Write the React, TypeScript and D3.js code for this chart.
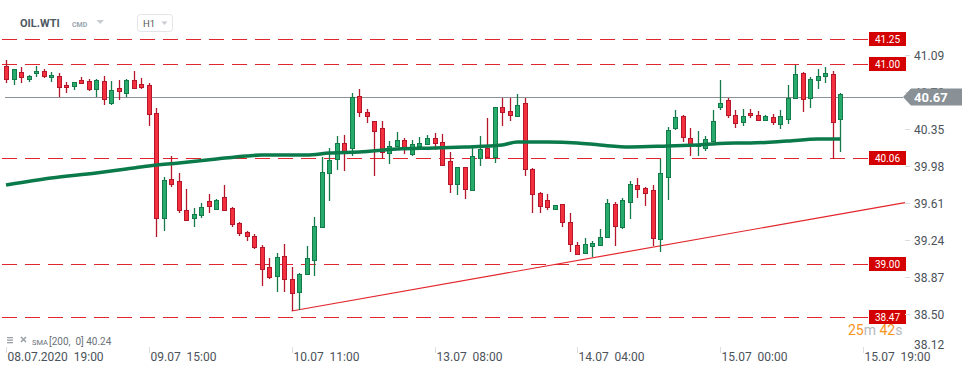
import React, { useEffect, useRef } from 'react';
import * as d3 from 'd3';

// hourly OHLC, OIL.WTI
const opens = [
  40.98, 40.85, 40.92, 40.85, 40.91, 40.93, 40.87, 40.88, 40.79, 40.78,
  40.84, 40.83, 40.75, 40.83, 40.61, 40.76, 40.71, 40.84, 40.80, 40.79,
  40.51, 39.46, 39.85, 39.83, 39.54, 39.46, 39.49, 39.63, 39.55, 39.67,
  39.56, 39.41, 39.32, 39.28, 39.17, 38.97, 38.88, 39.08, 38.85, 38.72,
  38.90, 39.04, 39.37, 39.91, 40.05, 40.21, 40.16, 40.68, 40.52, 40.43,
  40.36, 40.11, 40.18, 40.24, 40.10, 40.18, 40.20, 40.26, 40.22, 40.03,
  39.80, 39.97, 39.74, 40.06, 40.16, 40.07, 40.57, 40.53, 40.48, 40.61,
  39.95, 39.71, 39.64, 39.55, 39.60, 39.42, 39.19, 39.11, 39.18, 39.19,
  39.27, 39.60, 39.37, 39.62, 39.79, 39.76, 39.74, 39.25, 39.87, 40.36,
  40.48, 40.26, 40.18, 40.16, 40.23, 40.57, 40.64, 40.49, 40.42, 40.51,
  40.49, 40.44, 40.47, 40.40, 40.45, 40.66, 40.91, 40.66, 40.84, 40.88,
  40.90, 40.45,
];
const highs = [
  41.04, 40.95, 40.97, 40.89, 40.98, 40.95, 40.92, 40.91, 40.82, 40.82,
  40.87, 40.85, 40.85, 40.88, 40.83, 40.84, 40.85, 40.93, 40.86, 40.81,
  40.56, 39.87, 40.08, 39.91, 39.75, 39.56, 39.61, 39.70, 39.65, 39.79,
  39.57, 39.42, 39.33, 39.30, 39.19, 39.06, 39.11, 39.20, 38.97, 38.91,
  39.18, 39.47, 40.07, 40.16, 40.28, 40.29, 40.71, 40.75, 40.55, 40.43,
  40.43, 40.23, 40.32, 40.26, 40.24, 40.27, 40.29, 40.31, 40.30, 40.12,
  39.97, 39.97, 40.16, 40.28, 40.46, 40.57, 40.66, 40.66, 40.70, 40.66,
  39.96, 39.72, 39.70, 39.59, 39.60, 39.51, 39.22, 39.26, 39.23, 39.35,
  39.65, 39.62, 39.66, 39.83, 39.86, 39.77, 39.79, 40.05, 40.37, 40.54,
  40.49, 40.36, 40.33, 40.28, 40.54, 40.84, 40.66, 40.54, 40.55, 40.55,
  40.53, 40.49, 40.50, 40.54, 40.79, 40.99, 40.92, 40.87, 40.95, 40.97,
  40.93, 40.71,
];
const lows = [
  40.81, 40.79, 40.81, 40.82, 40.87, 40.86, 40.82, 40.67, 40.71, 40.74,
  40.80, 40.73, 40.67, 40.59, 40.59, 40.64, 40.67, 40.76, 40.75, 40.38,
  39.27, 39.33, 39.77, 39.51, 39.43, 39.37, 39.46, 39.51, 39.54, 39.53,
  39.37, 39.28, 39.23, 39.15, 38.78, 38.85, 38.72, 38.72, 38.53, 38.54,
  38.89, 38.88, 39.36, 39.63, 39.94, 39.93, 40.08, 40.47, 40.41, 39.88,
  40.06, 40.00, 40.18, 40.10, 40.08, 40.16, 40.19, 40.14, 39.99, 39.71,
  39.69, 39.65, 39.74, 39.98, 40.07, 40.01, 40.38, 40.43, 40.48, 39.88,
  39.51, 39.51, 39.54, 39.55, 39.37, 39.12, 39.09, 39.11, 39.07, 39.19,
  39.26, 39.18, 39.35, 39.45, 39.66, 39.58, 39.18, 39.12, 39.64, 40.34,
  40.22, 40.08, 40.08, 40.13, 40.22, 40.54, 40.46, 40.36, 40.38, 40.46,
  40.44, 40.43, 40.39, 40.35, 40.40, 40.66, 40.52, 40.56, 40.75, 40.81,
  40.05, 40.12,
];
const closes = [
  40.85, 40.95, 40.87, 40.88, 40.93, 40.88, 40.89, 40.77, 40.77, 40.82,
  40.81, 40.75, 40.84, 40.65, 40.74, 40.73, 40.84, 40.76, 40.77, 40.50,
  39.46, 39.84, 39.80, 39.54, 39.44, 39.50, 39.57, 39.58, 39.64, 39.54,
  39.40, 39.31, 39.28, 39.17, 38.95, 38.87, 39.07, 38.85, 38.71, 38.90,
  39.06, 39.38, 39.92, 40.04, 40.21, 40.12, 40.67, 40.52, 40.48, 40.33,
  40.12, 40.18, 40.24, 40.15, 40.20, 40.21, 40.26, 40.21, 39.99, 39.80,
  39.97, 39.75, 40.08, 40.15, 40.07, 40.57, 40.52, 40.49, 40.59, 39.95,
  39.70, 39.58, 39.57, 39.59, 39.42, 39.20, 39.10, 39.20, 39.21, 39.27,
  39.61, 39.38, 39.64, 39.80, 39.75, 39.71, 39.26, 39.91, 40.34, 40.47,
  40.27, 40.19, 40.20, 40.25, 40.43, 40.61, 40.49, 40.41, 40.48, 40.49,
  40.44, 40.48, 40.42, 40.48, 40.66, 40.90, 40.65, 40.85, 40.88, 40.91,
  40.42, 40.70,
];

// SMA(200) read at some candles
const smaIdx = [0, 6, 12, 16, 19, 23, 28, 32, 34, 40, 43, 47, 52, 57, 61, 66, 68, 72, 76, 79, 83, 88, 92, 97, 99, 104, 108, 111];
const smaVal = [39.79, 39.86, 39.91, 39.95, 39.98, 40.01, 40.05, 40.08, 40.09, 40.09, 40.11, 40.12, 40.15, 40.16, 40.17, 40.19, 40.22, 40.22, 40.21, 40.19, 40.17, 40.18, 40.19, 40.21, 40.21, 40.23, 40.25, 40.25];

const levels = [41.25, 41.0, 40.06, 39.0, 38.47];
const lastPrice = 40.67;
const trendIdx = [38, 111];
const trendVal = [38.53, 39.5];

const yTicks = [41.09, 40.72, 40.35, 39.98, 39.61, 39.24, 38.87, 38.5, 38.12];
const xTickIdx = [0, 19, 38, 57, 76, 95, 114];
const xTickLabels = ['08.07.2020  19:00', '09.07  15:00', '10.07  11:00', '13.07  08:00', '14.07  04:00', '15.07  00:00', '15.07  19:00'];

const width = 974;
const height = 375;
const font = 'Roboto, "Noto Sans", sans-serif';

export default function App() {
  const svgRef = useRef<SVGSVGElement>(null);

  useEffect(() => {
    if (!svgRef.current) return;
    const svg = d3.select(svgRef.current);
    svg.selectAll('*').remove();

    const xScale = d3.scaleLinear().domain([0, 114]).range([6, 863]);
    const yScale = d3.scaleLinear().domain([38.12, 41.25]).range([352, 39]);
    const px = (v: number) => Math.round(v) + 0.5;

    svg.append('rect').attr('width', width).attr('height', height).attr('fill', '#fff');

    // header
    svg.append('text').attr('x', 20).attr('y', 27).attr('font-family', font)
      .attr('font-size', 11).attr('font-weight', 700).attr('fill', '#4d5862').text('OIL.WTI');
    svg.append('text').attr('x', 72).attr('y', 26.5).attr('font-family', font)
      .attr('font-size', 7).attr('font-weight', 700).attr('fill', '#9aa5ae').text('CMD');
    svg.append('path').attr('d', 'M96.5,20 L104,20 L100.25,24 Z').attr('fill', '#c8ccd0');
    svg.append('rect').attr('x', 137.5).attr('y', 14.5).attr('width', 35).attr('height', 17)
      .attr('rx', 3).attr('fill', '#fff').attr('stroke', '#e3e5e8');
    svg.append('text').attr('x', 143).attr('y', 27).attr('font-family', font)
      .attr('font-size', 9.5).attr('fill', '#555').text('H1');
    svg.append('path').attr('d', 'M161.5,21.5 L167.5,21.5 L164.5,25 Z').attr('fill', '#c8ccd0');

    // level lines
    levels.forEach(l => {
      const y = px(yScale(l));
      svg.append('line').attr('x1', 2).attr('x2', 869).attr('y1', y).attr('y2', y)
        .attr('stroke', '#e0262f').attr('stroke-width', 1.2).attr('stroke-dasharray', '15,8');
    });

    // trend line
    const slope = (trendVal[1] - trendVal[0]) / (trendIdx[1] - trendIdx[0]);
    const endIdx = xScale.invert(905);
    svg.append('line')
      .attr('x1', xScale(trendIdx[0])).attr('y1', yScale(trendVal[0]))
      .attr('x2', xScale(endIdx)).attr('y2', yScale(trendVal[0] + slope * (endIdx - trendIdx[0])))
      .attr('stroke', '#e2262c').attr('stroke-width', 1.2);

    // last price line
    const yLast = px(yScale(lastPrice));
    svg.append('line').attr('x1', 5).attr('x2', 903).attr('y1', yLast).attr('y2', yLast)
      .attr('stroke', '#8c9196').attr('stroke-width', 1);

    // candles
    const candles = svg.append('g');
    opens.forEach((o, i) => {
      const c = closes[i];
      const up = c >= o;
      const cx = px(xScale(i));
      const stroke = up ? '#157a4a' : '#b5172a';
      const fill = up ? '#27ab6c' : '#f4303f';
      candles.append('line').attr('x1', cx).attr('x2', cx)
        .attr('y1', yScale(highs[i])).attr('y2', yScale(lows[i]))
        .attr('stroke', stroke).attr('stroke-width', 1.3);
      const top = Math.round(yScale(Math.max(o, c))) + 0.5;
      const bot = Math.max(top + 1, Math.round(yScale(Math.min(o, c))) + 0.5);
      candles.append('rect').attr('x', cx - 2).attr('width', 4)
        .attr('y', top).attr('height', bot - top)
        .attr('fill', fill).attr('stroke', stroke).attr('stroke-width', 1);
    });

    // SMA
    const smaLine = d3.line<number>()
      .x(d => xScale(d))
      .y((d, i) => yScale(smaVal[i]))
      .curve(d3.curveMonotoneX);
    svg.append('path').datum(smaIdx).attr('fill', 'none')
      .attr('stroke', '#0b7a4b').attr('stroke-width', 3.5).attr('d', smaLine);

    // level labels
    levels.forEach(l => {
      const y = yScale(l);
      svg.append('rect').attr('x', 869).attr('y', Math.round(y) - 7).attr('width', 37).attr('height', 14)
        .attr('fill', '#d40000');
      svg.append('text').attr('x', 887.5).attr('y', Math.round(y) + 3.5).attr('text-anchor', 'middle')
        .attr('font-family', font).attr('font-size', 10).attr('fill', '#fff').text(l.toFixed(2));
    });

    // right axis
    yTicks.forEach(t => {
      const y = Math.min(yScale(t), 344);
      if (yScale(t) < 344) {
        svg.append('line').attr('x1', 905).attr('x2', 910).attr('y1', px(y)).attr('y2', px(y))
          .attr('stroke', '#ddd');
      }
      svg.append('text').attr('x', 914).attr('y', y + 4.5).attr('font-family', font)
        .attr('font-size', 12).attr('fill', '#4b5259').text(t.toFixed(2));
    });

    // last price tag
    const yl = yScale(lastPrice);
    svg.append('path')
      .attr('d', `M903,${yl} L911,${yl - 8.5} L962,${yl - 8.5} L962,${yl + 8.5} L911,${yl + 8.5} Z`)
      .attr('fill', '#899196');
    svg.append('text').attr('x', 914).attr('y', yl + 5).attr('font-family', font)
      .attr('font-size', 13).attr('font-weight', 700).attr('fill', '#fff').text(lastPrice.toFixed(2));

    // bottom axis
    xTickIdx.forEach((t, i) => {
      const x = px(xScale(t));
      svg.append('line').attr('x1', x).attr('x2', x).attr('y1', 347).attr('y2', 353).attr('stroke', '#ddd');
      svg.append('text').attr('x', x + 1).attr('y', 361).attr('font-family', font)
        .attr('font-size', 12).attr('fill', '#4b5259').style('white-space', 'pre').text(xTickLabels[i]);
    });

    // SMA legend
    const lg = svg.append('g');
    lg.append('rect').attr('x', 7).attr('y', 337).attr('width', 6).attr('height', 1.3).attr('fill', '#9aa0a6');
    lg.append('rect').attr('x', 7).attr('y', 339.5).attr('width', 6).attr('height', 1.3).attr('fill', '#9aa0a6');
    lg.append('rect').attr('x', 7).attr('y', 342).attr('width', 6).attr('height', 1.3).attr('fill', '#9aa0a6');
    lg.append('path').attr('d', 'M21,337 L26,342 M26,337 L21,342').attr('stroke', '#9aa0a6').attr('stroke-width', 1.6);
    lg.append('text').attr('x', 32).attr('y', 345).attr('font-family', font).attr('font-size', 7.5)
      .attr('fill', '#6b7278').text('SMA');
    lg.append('text').attr('x', 49).attr('y', 345).attr('font-family', font).attr('font-size', 10)
      .attr('fill', '#6b7278').style('white-space', 'pre').text('[200,  0] 40.24');

    // countdown
    const cd = svg.append('text').attr('x', 848).attr('y', 335).attr('font-family', font).attr('font-size', 14);
    cd.append('tspan').attr('fill', '#f7941d').text('25');
    cd.append('tspan').attr('fill', '#b4b9be').text('m ');
    cd.append('tspan').attr('fill', '#f7941d').text('42');
    cd.append('tspan').attr('fill', '#b4b9be').text('s');
  }, []);

  return (
    <svg ref={svgRef} width={width} height={height}
      style={{ position: 'absolute', left: 0, top: 0 }} />
  );
}
